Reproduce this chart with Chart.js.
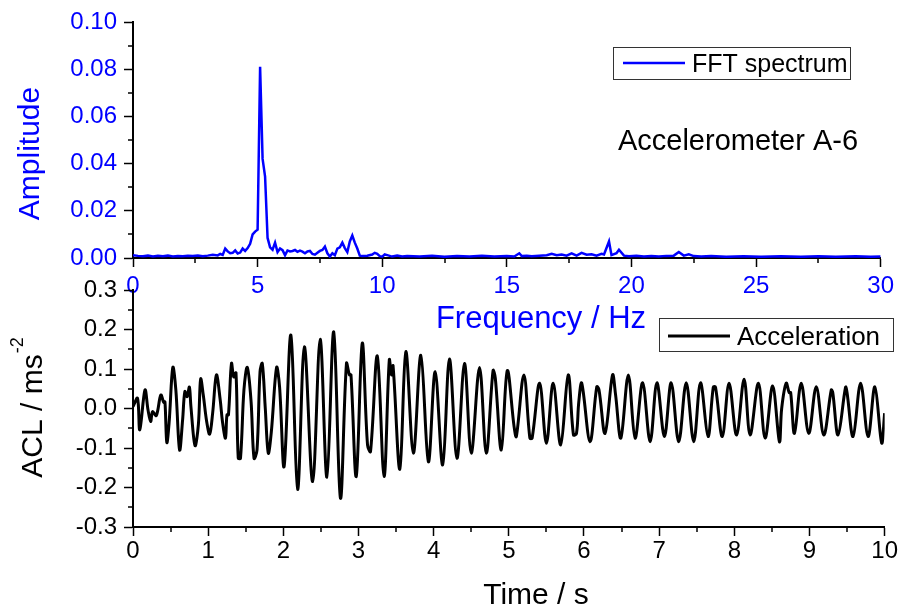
<!DOCTYPE html>
<html><head><meta charset="utf-8">
<script src="https://cdn.jsdelivr.net/npm/chart.js@4/dist/chart.umd.min.js"></script>
<style>
html,body{margin:0;padding:0;background:#fff;}
#wrap{position:relative;width:899px;height:606px;overflow:hidden;background:#fff;}
canvas{position:absolute;left:0;top:0;}
</style></head><body>
<div id="wrap"><canvas id="fft" width="899" height="606"></canvas><canvas id="acc" width="899" height="606"></canvas></div>
<script>
// ---------- DATA ----------
const fftFreq = [0.0,0.2,0.4,0.6,0.8,1.0,1.2,1.4,1.6,1.8,2.0,2.2,2.4,2.6,2.8,3.0,3.2,3.4,3.5,3.6,3.7,3.8,3.9,4.0,4.1,4.2,4.3,4.4,4.5,4.6,4.7,4.8,4.9,5.0,5.1,5.2,5.3,5.4,5.5,5.6,5.7,5.8,5.9,6.0,6.1,6.2,6.3,6.4,6.5,6.6,6.7,6.8,6.9,7.0,7.1,7.2,7.3,7.4,7.5,7.6,7.7,7.8,7.9,8.0,8.1,8.2,8.3,8.4,8.5,8.6,8.7,8.8,8.9,9.0,9.1,9.2,9.4,9.6,9.7,9.8,9.9,10.0,10.1,10.2,10.4,10.6,10.8,11.0,11.5,12.0,12.5,13.0,13.5,14.0,14.5,15.0,15.3,15.5,15.6,15.8,16.0,16.3,16.6,16.8,17.0,17.2,17.4,17.6,17.8,18.0,18.2,18.4,18.6,18.8,18.9,19.1,19.2,19.4,19.5,19.7,19.9,20.2,20.5,20.8,21.1,21.4,21.7,21.9,22.1,22.3,22.5,22.8,23.2,23.8,24.5,25.2,26.0,26.8,27.5,28.2,29.0,29.6,30.0];
const fftAmp = [0.0012,0.0009,0.0007,0.0010,0.0006,0.0009,0.0007,0.0010,0.0006,0.0008,0.0007,0.0010,0.0008,0.0011,0.0007,0.0010,0.0014,0.0011,0.0017,0.0013,0.0040,0.0028,0.0020,0.0022,0.0032,0.0019,0.0023,0.0040,0.0030,0.0042,0.0060,0.0100,0.0112,0.0120,0.0810,0.0420,0.0345,0.0085,0.0045,0.0035,0.0065,0.0025,0.0040,0.0033,0.0012,0.0032,0.0028,0.0030,0.0034,0.0026,0.0031,0.0027,0.0020,0.0028,0.0030,0.0017,0.0014,0.0022,0.0030,0.0034,0.0048,0.0020,0.0006,0.0020,0.0012,0.0040,0.0045,0.0065,0.0042,0.0025,0.0070,0.0095,0.0065,0.0040,0.0010,0.0008,0.0010,0.0015,0.0022,0.0018,0.0008,0.0006,0.0015,0.0012,0.0006,0.0010,0.0006,0.0008,0.0006,0.0009,0.0005,0.0008,0.0006,0.0009,0.0006,0.0008,0.0006,0.0020,0.0008,0.0010,0.0007,0.0010,0.0012,0.0018,0.0012,0.0015,0.0010,0.0020,0.0010,0.0022,0.0014,0.0016,0.0010,0.0018,0.0015,0.0070,0.0012,0.0020,0.0035,0.0010,0.0007,0.0009,0.0006,0.0008,0.0006,0.0009,0.0010,0.0025,0.0010,0.0016,0.0008,0.0006,0.0008,0.0005,0.0007,0.0005,0.0007,0.0005,0.0007,0.0005,0.0007,0.0005,0.0006];

const accTime = [0.00,0.06,0.09,0.16,0.20,0.235,0.26,0.31,0.37,0.41,0.425,0.45,0.48,0.53,0.57,0.62,0.66,0.69,0.72,0.75,0.77,0.825,0.87,0.90,0.935,0.98,1.02,1.06,1.11,1.16,1.19,1.23,1.25,1.27,1.31,1.34,1.37,1.40,1.43,1.476,1.52,1.57,1.61,1.65,1.69,1.72,1.76,1.80,1.84,1.91,1.95,2.01,2.10,2.19,2.28,2.39,2.49,2.58,2.67,2.76,2.84,2.88,2.90,2.97,3.05,3.12,3.16,3.25,3.34,3.41,3.44,3.46,3.55,3.63,3.73,3.83,3.93,4.02,4.12,4.21,4.31,4.41,4.50,4.61,4.70,4.79,4.82,4.90,4.98,5.07,5.10,5.20,5.28,5.31,5.41,5.50,5.59,5.69,5.79,5.86,5.90,5.93,5.97,6.08,6.17,6.20,6.28,6.38,6.42,6.49,6.59,6.68,6.78,6.88,6.97,7.07,7.16,7.26,7.36,7.46,7.55,7.65,7.72,7.75,7.84,7.93,8.03,8.13,8.21,8.32,8.41,8.51,8.60,8.63,8.69,8.73,8.75,8.80,8.89,8.99,9.09,9.19,9.29,9.31,9.38,9.48,9.50,9.58,9.68,9.78,9.87,9.96,10.00];
const accValue = [0.005,0.026,-0.054,0.047,-0.004,-0.033,-0.008,-0.018,0.034,0.015,0.017,-0.086,-0.037,0.104,0.047,-0.105,-0.029,0.043,0.030,0.054,0.006,-0.094,-0.040,0.075,0.034,-0.033,-0.065,-0.011,0.085,0.022,-0.033,-0.075,-0.016,-0.016,0.114,0.080,0.090,-0.126,-0.126,0.047,0.104,0.020,-0.126,-0.105,0.093,0.114,0.000,-0.113,-0.060,0.104,0.055,-0.147,0.186,-0.205,0.156,-0.185,0.175,-0.174,0.194,-0.227,0.114,0.085,0.085,-0.172,0.165,-0.092,-0.109,0.133,-0.172,0.123,0.085,0.108,-0.154,0.144,-0.113,0.135,-0.135,0.093,-0.143,0.125,-0.126,0.114,-0.113,0.104,-0.113,0.096,0.077,-0.105,0.096,-0.046,-0.071,0.085,-0.075,-0.075,0.064,-0.088,0.064,-0.092,0.085,-0.067,-0.063,0.015,0.064,-0.084,0.055,0.047,-0.063,0.085,0.035,-0.075,0.085,-0.075,0.065,-0.084,0.065,-0.071,0.065,-0.084,0.065,-0.084,0.065,-0.071,0.054,0.054,-0.071,0.064,-0.067,0.074,-0.067,0.064,-0.075,0.057,-0.084,0.000,0.064,0.040,0.040,-0.063,0.064,-0.063,0.055,-0.067,0.047,0.040,-0.067,0.054,0.040,-0.071,0.064,-0.071,0.055,-0.087,-0.012];

// axis ranges / ticks
const fftXRange = [0, 30], fftXMajor = 5, fftXMinor = 2.5;
const fftYRange = [0, 0.10], fftYMajor = 0.02, fftYMinor = 0.01;
const accXRange = [0, 10], accXMajor = 1, accXMinor = 0.5;
const accYRange = [-0.3, 0.3], accYMajor = 0.1, accYMinor = 0.05;

// texts
const fftSeriesName = 'FFT spectrum';
const accSeriesName = 'Acceleration';
const noteText = 'Accelerometer A-6';
const fftXTitle = 'Frequency / Hz';
const fftYTitle = 'Amplitude';
const accXTitle = 'Time / s';
const accYTitle = 'ACL / ms';
const accYTitleSup = '-2';

// ---------- STYLE ----------
const FONT = "'Liberation Sans', Arial, Helvetica, sans-serif";
const BLUE = '#0000ff';
const BLACK = '#000000';
Chart.defaults.font.family = FONT;

const minorTicksPlugin = {
  id: 'minorTicks',
  afterDraw(chart, args, o) {
    const {ctx, chartArea: ca} = chart;
    const xs = chart.scales.x, ys = chart.scales.y;
    ctx.save();
    ctx.strokeStyle = BLACK; ctx.lineWidth = o.width;
    ctx.beginPath();
    const nx = Math.round((xs.max - xs.min) / o.xStep);
    for (let i = 1; i < nx; i += 2) {
      const px = Math.round(xs.getPixelForValue(xs.min + i * o.xStep));
      ctx.moveTo(px, ca.bottom); ctx.lineTo(px, ca.bottom + o.len);
    }
    const ny = Math.round((ys.max - ys.min) / o.yStep);
    for (let i = 1; i < ny; i += 2) {
      const py = Math.round(ys.getPixelForValue(ys.min + i * o.yStep));
      ctx.moveTo(ca.left - o.len, py); ctx.lineTo(ca.left, py);
    }
    ctx.stroke();
    ctx.restore();
  }
};

function drawLegendBox(ctx, box, color, label, fontSize, lw) {
  ctx.save();
  ctx.strokeStyle = '#333'; ctx.lineWidth = 1;
  ctx.strokeRect(box.x + 0.5, box.y + 0.5, box.w, box.h);
  ctx.strokeStyle = color; ctx.lineWidth = lw;
  ctx.beginPath(); ctx.moveTo(box.lx0, box.ly); ctx.lineTo(box.lx1, box.ly); ctx.stroke();
  ctx.fillStyle = BLACK; ctx.font = fontSize + 'px ' + FONT;
  ctx.textAlign = 'left'; ctx.textBaseline = 'alphabetic';
  ctx.fillText(label, box.tx, box.ty);
  ctx.restore();
}

const fftTextPlugin = {
  id: 'fftText',
  afterDraw(chart) {
    const ctx = chart.ctx;
    ctx.save();
    ctx.fillStyle = BLUE; ctx.font = '30px ' + FONT;
    ctx.translate(39, 153.5); ctx.rotate(-Math.PI / 2);
    ctx.textAlign = 'center'; ctx.textBaseline = 'alphabetic';
    ctx.fillText(fftYTitle, 0, 0);
    ctx.restore();
    ctx.save();
    ctx.fillStyle = BLUE; ctx.font = '31px ' + FONT;
    ctx.textAlign = 'center'; ctx.textBaseline = 'alphabetic';
    ctx.fillText(fftXTitle, 541, 328);
    ctx.fillStyle = BLACK; ctx.font = '29px ' + FONT;
    ctx.fillText(noteText, 738, 150);
    ctx.restore();
    drawLegendBox(ctx, {x: 613, y: 47, w: 237, h: 32, lx0: 623, lx1: 685, ly: 63, tx: 692, ty: 72}, BLUE, fftSeriesName, 25, 2.5);
  }
};

const accTextPlugin = {
  id: 'accText',
  afterDraw(chart) {
    const ctx = chart.ctx;
    ctx.save();
    ctx.fillStyle = BLACK;
    ctx.font = '30px ' + FONT;
    const w1 = ctx.measureText(accYTitle).width;
    ctx.font = '18px ' + FONT;
    const w2 = ctx.measureText(accYTitleSup).width;
    ctx.translate(42, 408); ctx.rotate(-Math.PI / 2);
    ctx.textAlign = 'left'; ctx.textBaseline = 'alphabetic';
    const start = -(w1 + w2) / 2;
    ctx.font = '30px ' + FONT;
    ctx.fillText(accYTitle, start, 0);
    ctx.font = '18px ' + FONT;
    ctx.fillText(accYTitleSup, start + w1 + 1, -19);
    ctx.restore();
    ctx.save();
    ctx.fillStyle = BLACK; ctx.font = '30px ' + FONT;
    ctx.textAlign = 'center'; ctx.textBaseline = 'alphabetic';
    ctx.fillText(accXTitle, 536, 604);
    ctx.restore();
    drawLegendBox(ctx, {x: 659, y: 318, w: 234, h: 33, lx0: 668, lx1: 730, ly: 336, tx: 737, ty: 345}, BLACK, accSeriesName, 26, 3);
  }
};

function axisCommon(color, tickPad) {
  return {
    grid: {display: true, drawOnChartArea: false, drawTicks: true, tickLength: 9, tickColor: BLACK, tickWidth: 1.5},
    border: {display: true, color: BLACK, width: 2},
    ticks: {color: color, font: {size: 24, family: FONT}, padding: tickPad, autoSkip: false, maxRotation: 0, minRotation: 0}
  };
}

function makeScales(xr, xstep, yr, ystep, color, xH, xPad, yFmt) {
  const xs = axisCommon(color, xPad);
  xs.type = 'linear'; xs.position = 'bottom'; xs.min = xr[0]; xs.max = xr[1];
  xs.ticks.stepSize = xstep;
  xs.ticks.callback = v => String(Math.round(v));
  xs.afterFit = s => { s.height = xH; };
  const ys = axisCommon(color, 7);
  ys.type = 'linear'; ys.position = 'left'; ys.min = yr[0]; ys.max = yr[1];
  ys.ticks.stepSize = ystep;
  ys.ticks.callback = v => (Math.abs(v) < 1e-9 ? 0 : v).toFixed(yFmt);
  ys.afterFit = s => { s.width = 133; };
  return {x: xs, y: ys};
}

new Chart(document.getElementById('fft'), {
  type: 'line',
  data: {datasets: [{label: fftSeriesName, data: fftFreq.map((f, i) => ({x: f, y: fftAmp[i]})), borderColor: BLUE, borderWidth: 2.5, pointRadius: 0, tension: 0, fill: false}]},
  options: {
    responsive: false, animation: false, devicePixelRatio: 1,
    layout: {padding: {left: 0, right: 14, top: 22, bottom: 298}},
    plugins: {legend: {display: false}, tooltip: {enabled: false}, minorTicks: {xStep: fftXMinor, yStep: fftYMinor, len: 5, width: 1.5}},
    scales: makeScales(fftXRange, fftXMajor, fftYRange, fftYMajor, BLUE, 50, 5, 2)
  },
  plugins: [minorTicksPlugin, fftTextPlugin]
});

new Chart(document.getElementById('acc'), {
  type: 'line',
  data: {datasets: [{label: accSeriesName, data: accTime.map((t, i) => ({x: t, y: accValue[i]})), borderColor: BLACK, borderWidth: 3, pointRadius: 0, tension: 0.35, fill: false}]},
  options: {
    responsive: false, animation: false, devicePixelRatio: 1,
    layout: {padding: {left: 0, right: 14, top: 290, bottom: 0}},
    plugins: {legend: {display: false}, tooltip: {enabled: false}, minorTicks: {xStep: accXMinor, yStep: accYMinor, len: 5, width: 1.5}},
    scales: makeScales(accXRange, accXMajor, accYRange, accYMajor, BLACK, 79, 1, 1)
  },
  plugins: [minorTicksPlugin, accTextPlugin]
});
</script></body></html>
